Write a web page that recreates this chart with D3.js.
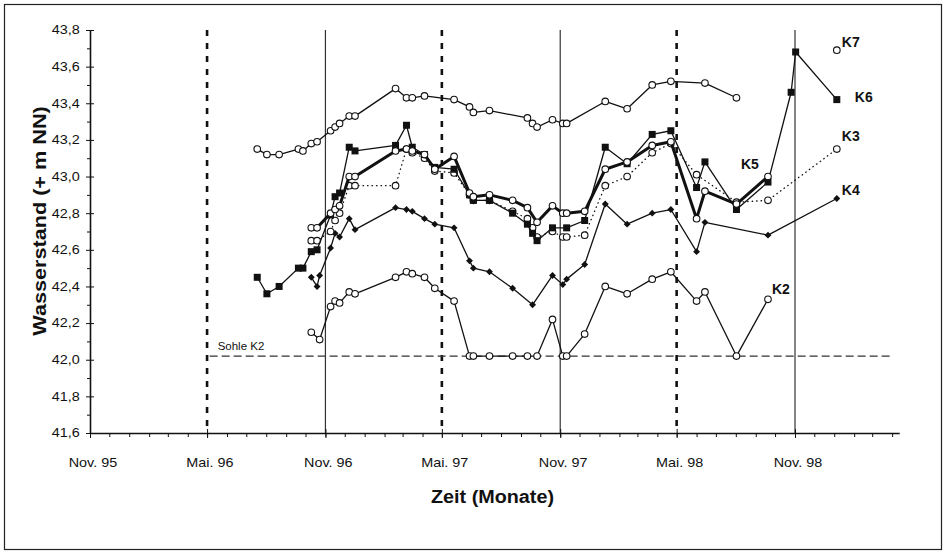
<!DOCTYPE html>
<html>
<head>
<meta charset="utf-8">
<script src="https://cdn.jsdelivr.net/npm/d3@7"></script>
<style>
  body { margin: 0; background: #fff; }
  text { font-family: Arial, "Liberation Sans", sans-serif; fill: #111; }
</style>
</head>
<body>
<div id="chart"></div>
<script>
// Messtermine (gemeinsam fuer alle Messstellen)
var dates = ["1996-07-18", "1996-08-02", "1996-08-21", "1996-09-20", "1996-09-27",
  "1996-10-10", "1996-10-19", "1996-10-23", "1996-11-09", "1996-11-16",
  "1996-11-23", "1996-12-08", "1996-12-17", "1997-02-18", "1997-03-07",
  "1997-03-16", "1997-04-04", "1997-04-20", "1997-05-20", "1997-06-13",
  "1997-06-19", "1997-07-14", "1997-08-19", "1997-09-11", "1997-09-19",
  "1997-09-26", "1997-10-20", "1997-11-05", "1997-11-11", "1997-12-09",
  "1998-01-10", "1998-02-13", "1998-03-24", "1998-04-22", "1998-06-01",
  "1998-06-14", "1998-08-02", "1998-09-20", "1998-10-26", "1998-11-02",
  "1999-01-05"];

// Wasserstand (+ m NN), null = keine Messung
var k7 = [43.15, 43.12, 43.12, 43.15, 43.14, 43.18, 43.19, null, 43.25, 43.27,
  43.29, 43.33, 43.33, 43.48, 43.43, 43.43, 43.44, null, 43.42, 43.38,
  43.35, 43.36, null, 43.32, 43.29, 43.27, 43.31, 43.29, 43.29, null,
  43.41, 43.37, 43.50, 43.52, null, 43.51, 43.43, null, null, null, 43.69];
var k6 = [42.45, 42.36, 42.40, 42.50, 42.50, 42.59, 42.60, null, 42.79, 42.89,
  42.91, 43.16, 43.14, 43.17, 43.28, 43.16, 43.12, 43.05, 43.04, 42.90,
  42.87, 42.87, 42.80, 42.74, 42.69, 42.65, 42.72, null, 42.72, 42.76,
  43.16, 43.07, 43.23, 43.25, 42.94, 43.08, 42.82, 42.97, 43.46, 43.68, 43.42];
var k5 = [null, null, null, null, null, 42.72, 42.72, null, 42.80, 42.82,
  42.84, 43.00, 43.00, 43.14, 43.15, 43.14, 43.12, 43.04, 43.11, 42.91,
  42.89, 42.90, 42.87, 42.83, null, 42.75, 42.84, 42.80, 42.80, 42.81,
  43.04, 43.08, 43.17, 43.19, 42.77, 42.92, 42.85, 43.00, null, null, null];
var k3 = [null, null, null, null, null, 42.65, 42.65, null, 42.70, 42.76,
  42.80, 42.95, 42.95, 42.95, 43.15, 43.13, 43.10, 43.03, 43.02, 42.90,
  42.87, 42.87, 42.81, 42.77, 42.72, 42.67, 42.70, 42.67, 42.67, 42.68,
  42.95, 43.00, 43.13, 43.18, 43.01, null, 42.86, 42.87, null, null, 43.15];
var k4 = [null, null, null, null, null, 42.45, 42.40, 42.46, 42.61, 42.69,
  42.67, 42.77, 42.71, 42.83, 42.82, 42.81, 42.77, 42.74, 42.72, 42.54,
  42.50, 42.48, 42.39, null, 42.30, null, 42.46, 42.41, 42.44, 42.52,
  42.85, 42.74, 42.80, 42.82, 42.59, 42.75, null, 42.68, null, null, 42.88];
var k2 = [null, null, null, null, null, 42.15, null, 42.11, 42.29, 42.32,
  42.31, 42.37, 42.36, 42.45, 42.48, 42.47, 42.45, 42.39, 42.32, 42.02,
  42.02, 42.02, 42.02, 42.02, null, 42.02, 42.22, 42.02, 42.02, 42.14,
  42.40, 42.36, 42.44, 42.48, 42.32, 42.37, 42.02, 42.33, null, null, null];

var sohleK2 = 42.02;
var sohleVon = "1996-05-05", sohleBis = "1999-04-01";

var yTicks = [41.6, 41.8, 42.0, 42.2, 42.4, 42.6, 42.8, 43.0, 43.2, 43.4, 43.6, 43.8];
var yMinor = [41.7, 41.9, 42.1, 42.3, 42.5, 42.7, 42.9, 43.1, 43.3, 43.5, 43.7];
var xTickDates = ["1995-11-01", "1996-05-01", "1996-11-01", "1997-05-01",
  "1997-11-01", "1998-05-01", "1998-11-01"];
var xTickLabels = ["Nov. 95", "Mai. 96", "Nov. 96", "Mai. 97", "Nov. 97", "Mai. 98", "Nov. 98"];
var maiLinien = ["1996-05-01", "1997-05-01", "1998-05-01"];
var novLinien = ["1996-11-01", "1997-11-01", "1998-11-01"];

var parse = d3.timeParse("%Y-%m-%d");

var svgWidth = 947;
var svgHeight = 556;

var svg = d3.select("#chart")
  .append("svg")
  .attr("width", svgWidth)
  .attr("height", svgHeight);

// Rahmen
svg.append("rect")
  .attr("x", 4.5).attr("y", 4.5)
  .attr("width", 937).attr("height", 545)
  .attr("fill", "none")
  .attr("stroke", "#222")
  .attr("stroke-width", 1.2);

var xStart = parse("1995-11-01"), xNov98 = parse("1998-11-01"), xEnd = parse("1999-04-12");
var left = 90, nov98px = 795;
var xScale = d3.scaleTime()
  .domain([xStart, xEnd])
  .range([left, left + (xEnd - xStart) / (xNov98 - xStart) * (nov98px - left)]);

var yScale = d3.scaleLinear()
  .domain([41.6, 43.8])
  .range([433, 30]);

// senkrechte Linien Mai (gestrichelt) und Nov. (durchgezogen)
svg.selectAll(".mai")
  .data(maiLinien)
  .enter()
  .append("line")
  .attr("x1", d => xScale(parse(d))).attr("x2", d => xScale(parse(d)))
  .attr("y1", yScale(43.8)).attr("y2", yScale(41.6))
  .attr("stroke", "#111")
  .attr("stroke-width", 2.6)
  .attr("stroke-dasharray", "6,7");

svg.selectAll(".nov")
  .data(novLinien)
  .enter()
  .append("line")
  .attr("x1", d => xScale(parse(d))).attr("x2", d => xScale(parse(d)))
  .attr("y1", yScale(43.8)).attr("y2", yScale(41.6))
  .attr("stroke", "#333")
  .attr("stroke-width", 1.2);

// Sohle K2
svg.append("line")
  .attr("x1", xScale(parse(sohleVon))).attr("x2", xScale(parse(sohleBis)))
  .attr("y1", yScale(sohleK2)).attr("y2", yScale(sohleK2))
  .attr("stroke", "#333")
  .attr("stroke-width", 1.2)
  .attr("stroke-dasharray", "8,4");

svg.append("text")
  .attr("x", xScale(parse(sohleVon)) + 8)
  .attr("y", yScale(sohleK2) - 6)
  .attr("font-size", "11.5px")
  .text("Sohle K2");

// Achsen
var yAxis = d3.axisLeft(yScale)
  .tickValues(yTicks)
  .tickSize(4)
  .tickSizeOuter(0)
  .tickFormat(d => d.toFixed(1).replace(".", ","));

var yAxisG = svg.append("g")
  .attr("transform", `translate(${left}, 0)`)
  .call(yAxis);
yAxisG.selectAll("line").attr("x1", 4).attr("x2", -4).attr("stroke", "#111");
yAxisG.select(".domain").attr("stroke", "#111").attr("stroke-width", 1.6);
yAxisG.selectAll("text")
  .attr("font-size", "12px")
  .attr("font-family", "Arial, 'Liberation Sans', sans-serif")
  .attr("fill", "#111")
  .attr("x", -8.5)
  .attr("transform", "scale(1.2,1)");

svg.append("g")
  .attr("transform", `translate(${left}, 0)`)
  .call(d3.axisLeft(yScale).tickValues(yMinor).tickSize(3).tickSizeOuter(0).tickFormat(""))
  .call(g => g.select(".domain").remove())
  .selectAll("line").attr("stroke", "#111");

svg.append("g")
  .attr("transform", `translate(0, ${yScale(41.6)})`)
  .call(d3.axisBottom(xScale).ticks(d3.timeMonth.every(1)).tickSize(4).tickSizeOuter(0).tickFormat(""))
  .call(g => g.select(".domain").attr("stroke", "#111").attr("stroke-width", 1.6))
  .selectAll("line").attr("stroke", "#111");

var xAxisG = svg.append("g")
  .attr("transform", `translate(0, ${yScale(41.6)})`)
  .call(d3.axisBottom(xScale)
    .tickValues(xTickDates.map(parse))
    .tickSize(4)
    .tickSizeOuter(0)
    .tickFormat((d, i) => xTickLabels[i]));
xAxisG.select(".domain").remove();
xAxisG.selectAll("line").attr("y1", -4).attr("y2", 5).attr("stroke", "#111");
xAxisG.selectAll("text")
  .attr("font-size", "12px")
  .attr("font-family", "Arial, 'Liberation Sans', sans-serif")
  .attr("fill", "#111")
  .attr("y", 34)
  .attr("dy", 0)
  .attr("x", 2)
  .attr("transform", "scale(1.2,1)");

// Achsentitel
svg.append("text")
  .attr("transform", "translate(45.5, 221) rotate(-90) scale(1.17,1)")
  .attr("text-anchor", "middle")
  .attr("font-size", "18.5px")
  .attr("font-weight", "bold")
  .text("Wasserstand (+ m NN)");

svg.append("text")
  .attr("transform", "translate(492.5, 503) scale(1.07,1)")
  .attr("text-anchor", "middle")
  .attr("font-size", "18.5px")
  .attr("font-weight", "bold")
  .text("Zeit (Monate)");

// Messreihen
var series = [
  { name: "K2", values: k2, line: "thin", marker: "circle", label: [4, -5] },
  { name: "K4", values: k4, line: "thin", marker: "diamond", label: [5, -4] },
  { name: "K3", values: k3, line: "dotted", marker: "circle", label: [5, -8] },
  { name: "K6", values: k6, line: "thin", marker: "square", label: [18, 2] },
  { name: "K5", values: k5, line: "thick", marker: "circle", label: [-27, -8] },
  { name: "K7", values: k7, line: "thin", marker: "circle", label: [5, -3], bruchVor: "1999-01-05" }
];

var lineGen = d3.line()
  .defined(d => !d.gap)
  .x(d => xScale(d.date))
  .y(d => yScale(d.value));

var symDiamond = d3.symbol().type(d3.symbolDiamond2).size(30);

series.forEach(function(s) {
  var pts = [];
  dates.forEach(function(dt, i) {
    if (s.values[i] == null) return;
    if (s.bruchVor === dt) pts.push({ gap: true });
    pts.push({ date: parse(dt), value: s.values[i] });
  });
  var g = svg.append("g").attr("class", "serie " + s.name);

  g.append("path")
    .datum(pts)
    .attr("d", lineGen)
    .attr("fill", "none")
    .attr("stroke", "#111")
    .attr("stroke-width", s.line === "thick" ? 3 : 1.3)
    .attr("stroke-linejoin", "round")
    .attr("stroke-linecap", s.line === "dotted" ? "round" : "butt")
    .attr("stroke-dasharray", s.line === "dotted" ? "0.5,4" : null);

  var marks = pts.filter(d => !d.gap);
  if (s.marker === "circle") {
    g.selectAll("circle")
      .data(marks)
      .enter()
      .append("circle")
      .attr("cx", d => xScale(d.date))
      .attr("cy", d => yScale(d.value))
      .attr("r", 3.3)
      .attr("fill", "#fff")
      .attr("stroke", "#111")
      .attr("stroke-width", 1.1);
  } else if (s.marker === "square") {
    g.selectAll("rect")
      .data(marks)
      .enter()
      .append("rect")
      .attr("x", d => xScale(d.date) - 3.5)
      .attr("y", d => yScale(d.value) - 3.5)
      .attr("width", 7)
      .attr("height", 7)
      .attr("fill", "#111");
  } else {
    g.selectAll("path.m")
      .data(marks)
      .enter()
      .append("path")
      .attr("class", "m")
      .attr("transform", d => `translate(${xScale(d.date)}, ${yScale(d.value)})`)
      .attr("d", symDiamond)
      .attr("fill", "#111");
  }

  var last = marks[marks.length - 1];
  g.append("text")
    .attr("x", xScale(last.date) + s.label[0])
    .attr("y", yScale(last.value) + s.label[1])
    .attr("font-size", "14px")
    .attr("font-weight", "bold")
    .text(s.name);
});
</script>
</body>
</html>
